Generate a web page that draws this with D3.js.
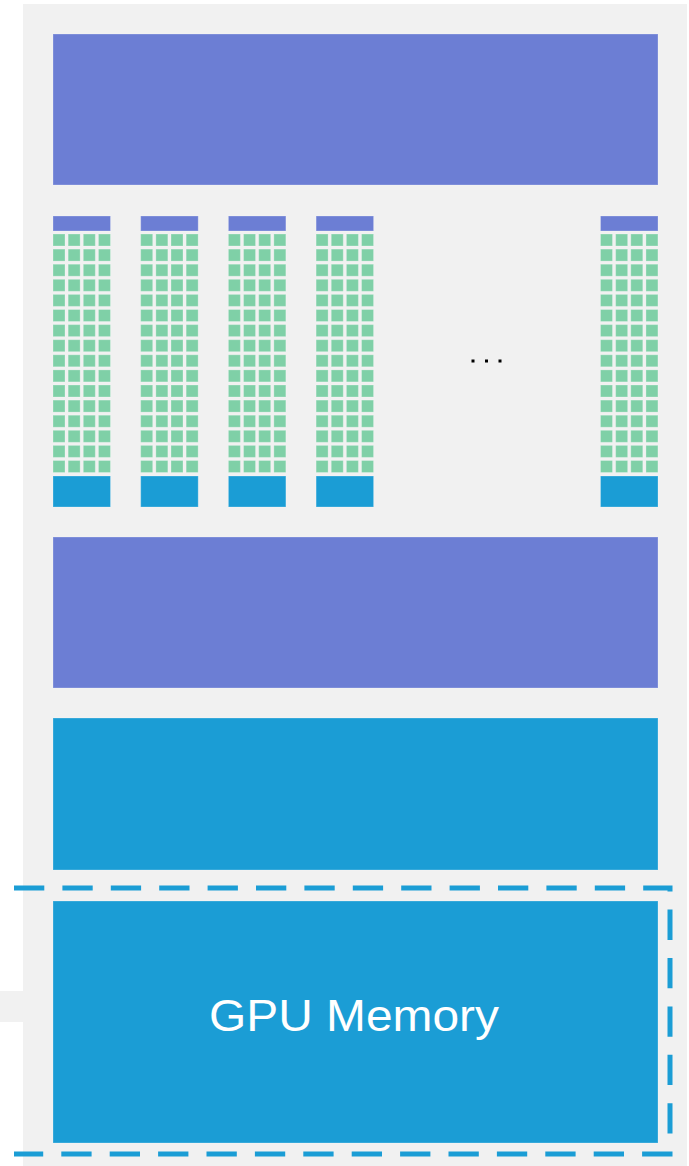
<!DOCTYPE html>
<html>
<head>
<meta charset="utf-8">
<script src="https://cdn.jsdelivr.net/npm/d3@7"></script>
<style>
html,body{margin:0;padding:0;background:#fff;}
svg{display:block;}
</style>
</head>
<body>
<svg id="chart" width="689" height="1166"></svg>
<script>
// ---- data ----
const blocks = ["Instruction Cache", "SMs", "L2 Cache", "L1/Shared", "GPU Memory"];
const blockLabels = ["", "", "", "", "GPU Memory"];
const smNames = ["SM 0", "SM 1", "SM 2", "SM 3", "SM N"];
const smSlots = [0, 1, 2, 3, 6.24];
const coreRows = d3.range(16);
const coreCols = d3.range(4);

// ---- styles ----
const C = {purple:"#6c7ed4", blue:"#1b9dd5", green:"#7fd0a7", gray:"#f1f1f1", edge:"rgba(255,255,255,0.25)"};
const svg = d3.select("#chart");

// background panel
svg.append("rect").attr("x",23).attr("y",4).attr("width",664).attr("height",1162).attr("fill",C.gray);
svg.append("rect").attr("x",0).attr("y",991).attr("width",23).attr("height",31).attr("fill",C.gray);

const X0 = 53, X1 = 658;
const bigBlocks = [
  {name:blocks[0], y0:34, y1:185, fill:C.purple, label:blockLabels[0]},
  {name:blocks[2], y0:537, y1:688, fill:C.purple, label:blockLabels[2]},
  {name:blocks[3], y0:718, y1:870, fill:C.blue, label:blockLabels[3]},
  {name:blocks[4], y0:901, y1:1143, fill:C.blue, label:blockLabels[4]}
];
svg.selectAll("rect.big").data(bigBlocks).join("rect").attr("class","big")
  .attr("x",X0).attr("y",d=>d.y0).attr("width",X1-X0).attr("height",d=>d.y1-d.y0)
  .attr("fill",d=>d.fill).attr("stroke",C.edge).attr("stroke-width",1);

svg.selectAll("text.lbl").data(bigBlocks.filter(d=>d.label)).join("text").attr("class","lbl")
  .attr("x",354).attr("y",1031)
  .attr("text-anchor","middle").attr("fill","#fff")
  .attr("font-family","'Liberation Sans', Arial, sans-serif").attr("font-size",44)
  .attr("textLength",290).attr("lengthAdjust","spacingAndGlyphs")
  .text(d=>d.label);

// SM columns
const step = 87.7;
const xSM = d3.scaleLinear().domain([0,1]).range([X0, X0+step]);
const colW = 57.5;
const cellX = d3.scaleLinear().domain([0,1]).range([0, 15.15]);
const cellY = d3.scaleLinear().domain([0,1]).range([234, 249.1]);

const sm = svg.selectAll("g.sm").data(smNames).join("g").attr("class","sm")
  .attr("transform",(d,i)=>`translate(${i===smNames.length-1 ? X1-colW : xSM(smSlots[i])},0)`);
sm.append("rect").attr("x",0).attr("y",216).attr("width",colW).attr("height",15)
  .attr("fill",C.purple).attr("stroke",C.edge);
sm.append("rect").attr("x",0).attr("y",476).attr("width",colW).attr("height",31)
  .attr("fill",C.blue).attr("stroke",C.edge);
const cells = [];
coreRows.forEach(r=>coreCols.forEach(c=>cells.push({r,c})));
sm.selectAll("rect.cell").data(cells).join("rect").attr("class","cell")
  .attr("x",d=>cellX(d.c)).attr("y",d=>cellY(d.r))
  .attr("width",12).attr("height",12)
  .attr("fill",C.green).attr("stroke",C.edge);

// ellipsis dots
svg.selectAll("rect.dot").data([0,1,2]).join("rect").attr("class","dot")
  .attr("x",d=>471.5+d*13.5).attr("y",359.5).attr("width",3).attr("height",3).attr("fill","#000");

// dashed memory boundary
svg.append("path").attr("d","M14,888H670V1154H14").attr("fill","none")
  .attr("stroke",C.blue).attr("stroke-width",5).attr("stroke-dasharray","30.3 18.1");
</script>
</body>
</html>
